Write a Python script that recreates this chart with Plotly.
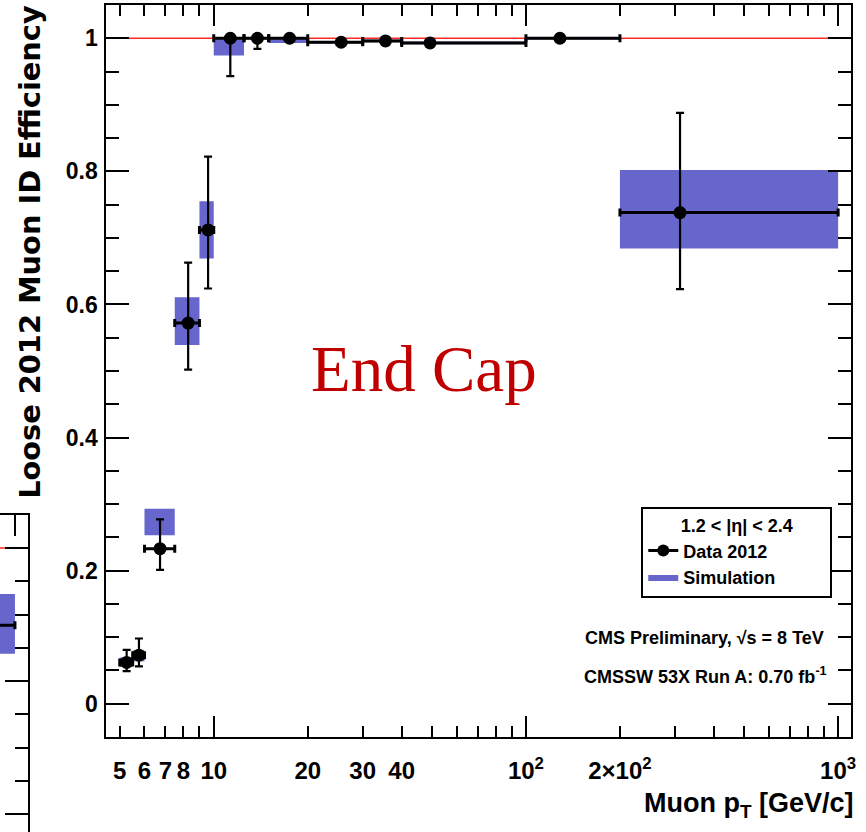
import math
import plotly.graph_objects as go

# ---------------- main panel (End Cap) data ----------------
BIN_LO = [5, 5.5, 6, 7.5, 9, 10, 12.5, 15, 20, 30, 40, 100, 200]
BIN_HI = [5.5, 6, 7.5, 9, 10, 12.5, 15, 20, 30, 40, 100, 200, 1000]
PT_MEAN = [5.26, 5.76, 6.73, 8.28, 9.59, 11.3, 13.8, 17.5, 25.6, 35.5, 49.3, 128.5, 311.6]
DATA_EFF = [0.062, 0.073, 0.233, 0.572, 0.712, 1.000, 1.000, 1.000, 0.994, 0.996, 0.993, 1.000, 0.738]
DATA_ERR_HI = [0.019, 0.025, 0.044, 0.091, 0.110, 0.000, 0.000, 0.002, 0.003, 0.002, 0.003, 0.001, 0.150]
DATA_ERR_LO = [0.013, 0.017, 0.032, 0.070, 0.088, 0.057, 0.016, 0.004, 0.003, 0.002, 0.003, 0.002, 0.115]
SIM_EFF = [0.0625, 0.072, 0.273, 0.575, 0.712, 0.988, 1.000, 0.996, 0.994, 0.996, 0.993, 1.000, 0.743]
SIM_ERR = [0.007, 0.008, 0.020, 0.036, 0.043, 0.014, 0.002, 0.003, 0.002, 0.002, 0.002, 0.002, 0.059]

REF_X = [5, 1000]
REF_Y = [1, 1]

X_LABEL_VALS = [5, 6, 7, 8, 10, 20, 30, 40, 100, 200, 1000]
X_LABEL_TEXT = ["5", "6", "7", "8", "10", "20", "30", "40",
                "10<sup>2</sup>", "2×10<sup>2</sup>", "10<sup>3</sup>"]
X_PLAIN_TICKS = [9, 50, 60, 70, 80, 90, 300, 400, 500, 600, 700, 800, 900]
X_MAJOR = [10, 100, 1000]
Y_TICKVALS = [0, 0.2, 0.4, 0.6, 0.8, 1.0]
Y_TICKTEXT = ["0", "0.2", "0.4", "0.6", "0.8", "1"]
Y_MINOR = [round(-0.05 + 0.05 * i, 2) for i in range(23)]

# ---------------- fragment of neighbouring panel (left edge) ----------------
FRAG_BIN_LO = [200]
FRAG_BIN_HI = [1000]
FRAG_PT = [311.0]
FRAG_DATA = [0.884]
FRAG_SIM = [0.886]
FRAG_SIM_ERR = [0.045]

W, H = 866, 832
SANS = "Liberation Sans, Arial, sans-serif"
SIM_COLOR = "#6666cc"


def xp(px):
    return px / W


def yp(py):
    return (H - py) / H


def boxes(lo, hi, c, e):
    xs, ys = [], []
    for a, b, cc, ee in zip(lo, hi, c, e):
        xs += [a, b, b, a, a, None]
        ys += [cc - ee, cc - ee, cc + ee, cc + ee, cc - ee, None]
    return xs, ys


fig = go.Figure()

# reference line at 1
fig.add_trace(go.Scatter(x=REF_X, y=REF_Y, mode="lines",
                         line=dict(color="#ff2a2a", width=1.6),
                         showlegend=False, hoverinfo="skip"))

# simulation boxes
sx, sy = boxes(BIN_LO, BIN_HI, SIM_EFF, SIM_ERR)
fig.add_trace(go.Scatter(x=sx, y=sy, mode="lines", fill="toself",
                         fillcolor=SIM_COLOR, line=dict(width=0, color=SIM_COLOR),
                         name="Simulation", legendrank=2, hoverinfo="skip"))

# data points
fig.add_trace(go.Scatter(
    x=PT_MEAN, y=DATA_EFF, mode="markers",
    marker=dict(color="black", size=13, symbol="circle"),
    error_x=dict(type="data", symmetric=False,
                 array=[h - m for h, m in zip(BIN_HI, PT_MEAN)],
                 arrayminus=[m - l for m, l in zip(PT_MEAN, BIN_LO)],
                 color="black", thickness=3, width=4),
    error_y=dict(type="data", symmetric=False, array=DATA_ERR_HI,
                 arrayminus=DATA_ERR_LO, color="black", thickness=2.2, width=4),
    showlegend=False))

# legend-only entry for data
fig.add_trace(go.Scatter(x=[None], y=[None], mode="lines+markers",
                         line=dict(color="black", width=3),
                         marker=dict(color="black", size=12),
                         name="Data 2012", legendrank=1))

# dummy traces on overlay axes
fig.add_trace(go.Scatter(x=[None], y=[None], xaxis="x2", yaxis="y2",
                         showlegend=False, hoverinfo="skip"))
fig.add_trace(go.Scatter(x=[None], y=[None], xaxis="x4", yaxis="y2",
                         showlegend=False, hoverinfo="skip"))

# fragment panel
fig.add_trace(go.Scatter(x=REF_X, y=REF_Y, mode="lines",
                         line=dict(color="#ff2a2a", width=1.6),
                         xaxis="x3", yaxis="y3", showlegend=False, hoverinfo="skip"))
fx, fy = boxes(FRAG_BIN_LO, FRAG_BIN_HI, FRAG_SIM, FRAG_SIM_ERR)
fig.add_trace(go.Scatter(x=fx, y=fy, mode="lines", fill="toself",
                         fillcolor=SIM_COLOR, line=dict(width=0, color=SIM_COLOR),
                         xaxis="x3", yaxis="y3", showlegend=False, hoverinfo="skip"))
fig.add_trace(go.Scatter(
    x=FRAG_PT, y=FRAG_DATA, mode="markers",
    marker=dict(color="black", size=13),
    error_x=dict(type="data", symmetric=False,
                 array=[h - m for h, m in zip(FRAG_BIN_HI, FRAG_PT)],
                 arrayminus=[m - l for m, l in zip(FRAG_PT, FRAG_BIN_LO)],
                 color="black", thickness=3, width=4),
    xaxis="x3", yaxis="y3", showlegend=False, hoverinfo="skip"))

X_RANGE = [math.log10(4.53), math.log10(1100)]
Y_RANGE = [-0.05, 1.05]
X_DOM = [xp(107), xp(856)]
Y_DOM = [yp(737), yp(5)]

xtickfont = dict(family=SANS, size=24, color="black", weight="bold")
ytickfont = dict(family=SANS, size=23, color="black", weight="bold")
common = dict(showgrid=False, zeroline=False, ticks="inside", tickcolor="black",
              showline=True, linecolor="black", linewidth=2, mirror="ticks")

fig.update_layout(
    width=W, height=H,
    margin=dict(l=0, r=0, t=0, b=0),
    paper_bgcolor="white", plot_bgcolor="white",
    xaxis=dict(type="log", range=X_RANGE, domain=X_DOM, anchor="y",
               tickmode="array", tickvals=X_LABEL_VALS, ticktext=X_LABEL_TEXT,
               ticklen=11, tickwidth=1.5, tickfont=xtickfont,
               ticklabelstandoff=11, **common),
    xaxis2=dict(type="log", range=X_RANGE, domain=X_DOM, anchor="y2",
                overlaying="x", tickmode="array", tickvals=X_MAJOR,
                ticklen=21, tickwidth=1.5, showticklabels=False, **common),
    xaxis4=dict(type="log", range=X_RANGE, domain=X_DOM, anchor="y2",
                overlaying="x", tickmode="array", tickvals=X_PLAIN_TICKS,
                ticklen=11, tickwidth=1.5, showticklabels=False, **common),
    yaxis=dict(range=Y_RANGE, domain=Y_DOM, anchor="x",
               tickmode="array", tickvals=Y_TICKVALS, ticktext=Y_TICKTEXT,
               ticklen=23, tickwidth=1.5, tickfont=ytickfont,
               ticklabelstandoff=2, **common),
    yaxis2=dict(range=Y_RANGE, domain=Y_DOM, anchor="x2", overlaying="y",
                tickmode="array", tickvals=Y_MINOR, ticklen=12.7, tickwidth=1.5,
                showticklabels=False, **common),
    xaxis3=dict(type="log", range=[2.952, 3.0414], domain=[0, xp(28)], anchor="y3",
                side="top", tickmode="array", tickvals=[1000], ticklen=21,
                tickwidth=1.5, showticklabels=False,
                minor=dict(tickvals=[900], ticks="inside", ticklen=11, tickcolor="black"),
                showgrid=False, zeroline=False, ticks="inside", tickcolor="black",
                showline=True, linecolor="black", linewidth=2),
    yaxis3=dict(range=[0.573, 1.0496], domain=[0, yp(515)], anchor="x3",
                side="right", tickmode="array", tickvals=[0.6, 0.8, 1.0], ticklen=23,
                tickwidth=1.5, showticklabels=False,
                minor=dict(dtick=0.05, tick0=0, ticks="inside", ticklen=12.7,
                           tickcolor="black"),
                showgrid=False, zeroline=False, ticks="inside", tickcolor="black",
                showline=True, linecolor="black", linewidth=2),
    legend=dict(x=xp(645), y=yp(507), xanchor="left", yanchor="top",
                bgcolor="white", bordercolor="black", borderwidth=2,
                font=dict(family=SANS, size=18, color="black", weight="bold"),
                title=dict(text="&nbsp;" * 7 + "1.2 &lt; |η| &lt; 2.4" + "&nbsp;" * 7,
                           side="top center",
                           font=dict(family=SANS, size=18, color="black", weight="bold")),
                itemwidth=30, tracegroupgap=0, traceorder="normal"),
    showlegend=True,
)

fig.add_annotation(text="Loose 2012 Muon ID Efficiency", textangle=-90,
                   x=xp(30), y=yp(252), xref="paper", yref="paper",
                   xanchor="center", yanchor="middle", showarrow=False,
                   font=dict(family="DejaVu Sans", size=28.8, color="black", weight="bold"))
fig.add_annotation(text="Muon p<sub>T</sub> [GeV/c]",
                   x=xp(861), y=yp(805), xref="paper", yref="paper",
                   xanchor="right", yanchor="middle", showarrow=False,
                   font=dict(family=SANS, size=27, color="black", weight="bold"))
fig.add_annotation(text="End Cap", x=xp(426), y=yp(369), xref="paper", yref="paper",
                   xanchor="center", yanchor="middle", showarrow=False,
                   font=dict(family="Liberation Serif, Times New Roman, serif", size=65,
                             color="#c00000"))
fig.add_annotation(text="CMS Preliminary, √s = 8 TeV", x=xp(831), y=yp(638),
                   xref="paper", yref="paper", xanchor="right", yanchor="middle",
                   showarrow=False,
                   font=dict(family=SANS, size=18, color="black", weight="bold"))
fig.add_annotation(text="CMSSW 53X Run A: 0.70 fb<sup>-1</sup>", x=xp(834), y=yp(675),
                   xref="paper", yref="paper", xanchor="right", yanchor="middle",
                   showarrow=False,
                   font=dict(family=SANS, size=18, color="black", weight="bold"))

# the page is photographed edge to edge: drop the browser's default body margin
fig.write_html("out.html", config={"displayModeBar": False},
               post_script="document.body.style.margin='0px';")
